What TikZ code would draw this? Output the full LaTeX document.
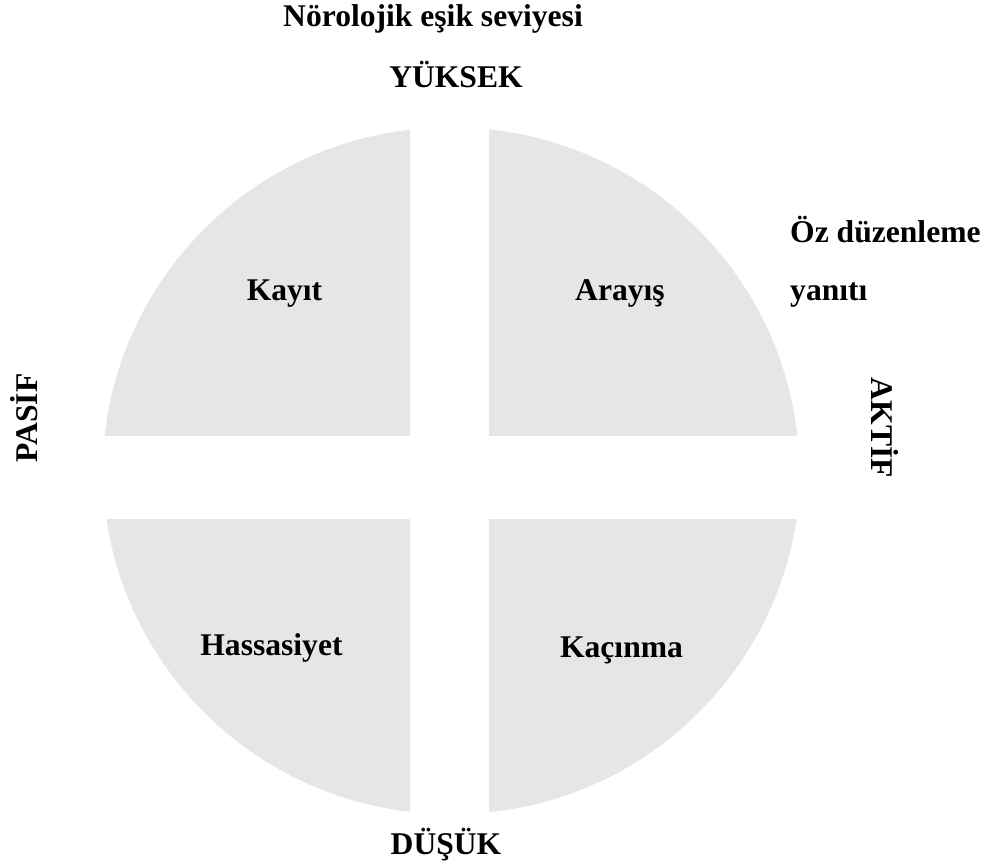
\documentclass[tikz,border=0pt]{standalone}
\usepackage{fontspec}
\setmainfont{Liberation Serif}
\definecolor{quadfill}{RGB}{230,230,230}
\begin{document}
\begin{tikzpicture}[x=1pt,y=-1pt,
  lbl/.style={font=\fontsize{31.6}{37}\selectfont\bfseries, inner sep=0pt, anchor=base},
  quad/.style={fill=quadfill}]
\useasboundingbox (0,0) rectangle (997,864);
% quadrants
\begin{scope}
  \clip (0,0) rectangle (410,435);
  \fill[quad] (449.5,474.5) circle[radius=347pt];
\end{scope}
\begin{scope}
  \clip (489,0) rectangle (997,435);
  \fill[quad] (452.5,474.5) circle[radius=347pt];
\end{scope}
\begin{scope}
  \clip (0,519) rectangle (410,864);
  \fill[quad] (449.5,467) circle[radius=347pt];
\end{scope}
\begin{scope}
  \clip (489,519) rectangle (997,864);
  \fill[quad] (453.5,467) circle[radius=347pt];
\end{scope}
% labels
\node[lbl] (title) at (433,27) {Nörolojik eşik seviyesi};
\node[lbl] (high) at (456,88) {YÜKSEK};
\node[lbl] (low) at (446,854) {DÜŞÜK};
\node[lbl] (kayit) at (284.5,300) {Kayıt};
\node[lbl] (arayis) at (620,300) {Arayış};
\node[lbl] (hass) at (271.5,655) {Hassasiyet};
\node[lbl] (kacin) at (621.5,657) {Kaçınma};
\node[lbl, anchor=base west] (oz) at (790,243) {Öz düzenleme};
\node[lbl, anchor=base west] (yanit) at (790,300) {yanıtı};
\node[lbl, anchor=center, rotate=90] (pasif) at (24,418) {PASİF};
\node[lbl, anchor=center, rotate=-90] (aktif) at (885,428) {AKTİF};
\end{tikzpicture}
\end{document}
